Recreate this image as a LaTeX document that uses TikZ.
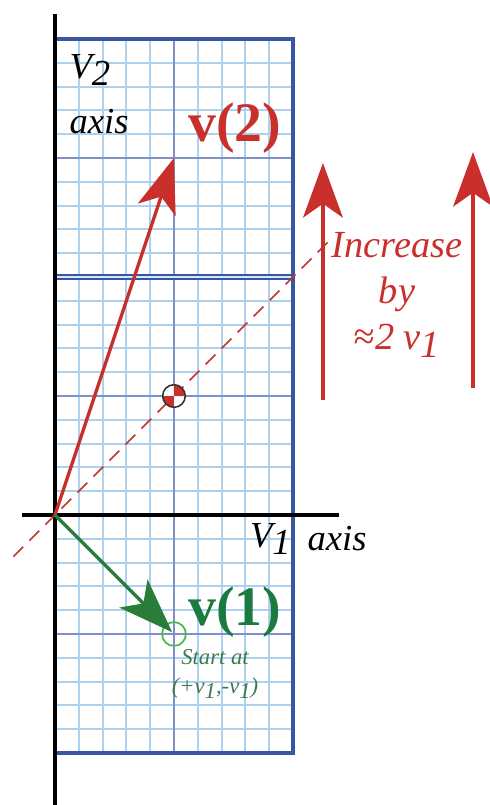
\documentclass[tikz,border=0pt]{standalone}
\usepackage{fontspec}
\setmainfont{Liberation Serif}
\usetikzlibrary{arrows.meta}

\definecolor{gridMinor}{HTML}{ADD2EF}
\definecolor{gridMajor}{HTML}{7F8FC8}
\definecolor{gridBorder}{HTML}{3A56A2}
\definecolor{vecRed}{HTML}{C9302B}
\definecolor{vecGreen}{HTML}{2A7D38}
\definecolor{labGreen}{HTML}{1A7A40}
\definecolor{noteGreen}{HTML}{3F7A4E}
\definecolor{ringGreen}{HTML}{4DB84D}

\def\VecPlotAxisLW{2.6pt}
\def\VecPlotVecLW{1.9pt}
\def\VecPlotBorderLW{2.1pt}
\def\VecPlotMinorLW{1.1pt}
\def\VecPlotMajorLW{1.1pt}
\def\VecPlotCgRadius{0.095}
\newcommand{\VecPlotSub}[1]{\raisebox{-0.45ex}{#1}}
\newcommand{\VecPlotStyles}{%
  \tikzset{
    vpminor/.style={draw=gridMinor, line width=\VecPlotMinorLW},
    vpmajor/.style={draw=gridMajor, line width=\VecPlotMajorLW},
    vpborder/.style={draw=gridBorder, line width=\VecPlotBorderLW},
    vpsplit/.style={draw=gridBorder, line width=1.5pt,
      double=gridMinor!50, double distance=0.9pt},
    vpaxis/.style={draw=black, line width=\VecPlotAxisLW},
    vpdash/.style={draw=vecRed, line width=0.9pt,
      dash pattern=on 8pt off 5pt},
    vphead/.style={
      -{Stealth[length=1.1cm, width=0.8cm, inset=0.28cm]}},
    vpvecred/.style={vphead, draw=vecRed, fill=vecRed,
      line width=\VecPlotVecLW},
    vpvecgreen/.style={vphead, draw=vecGreen, fill=vecGreen,
      line width=\VecPlotVecLW},
    vpring/.style={circle, draw=ringGreen, line width=1pt,
      minimum size=0.48cm, inner sep=0pt},
    vpcg/.style={circle, minimum size=0.44cm, inner sep=0pt},
    vplabel/.style={font=\fontsize{21}{25}\selectfont\itshape,
      inner sep=0pt},
    vpname/.style={font=\fontsize{32}{36}\selectfont\bfseries,
      inner sep=0pt},
    vpnote/.style={font=\fontsize{13}{17}\selectfont\itshape,
      text=noteGreen, align=center, inner sep=0pt},
    vpincrease/.style={font=\fontsize{22}{26.4}\selectfont\itshape,
      text=vecRed, align=center, inner sep=0pt},
  }%
}

\begin{document}
\begin{tikzpicture}[x=2.4cm, y=2.4cm]
  \VecPlotStyles
  \useasboundingbox (-0.462,-2.437) rectangle (3.655,4.328);

  % grid paper
  \draw[vpminor, step=0.2] (0,-2) grid (2,4);
  \draw[vpmajor, step=1] (0,-2) grid (2,4);
  \draw[vpsplit] (0,2) -- (2,2);
  \draw[vpborder] (0,-2) rectangle (2,4);

  % axes
  \coordinate (O) at (0,0);
  \coordinate (yTop) at (0,4.21);
  \coordinate (yBot) at (0,-2.437);
  \coordinate (xLeft) at (-0.277,0);
  \coordinate (xRight) at (2.387,0);
  \draw[vpaxis] (yBot) -- (yTop);
  \draw[vpaxis] (xLeft) -- (xRight);

  % diagonal
  \coordinate (diagA) at (-0.35,-0.35);
  \coordinate (diagB) at (2.3,2.3);
  \draw[vpdash] (diagA) -- (diagB);

  % centre mark
  \node[vpcg] (cg) at (1,1) {};
  \fill[white] (cg.center) circle (\VecPlotCgRadius);
  \fill[vecRed] (cg.center) -- ++(0:\VecPlotCgRadius)
    arc (0:90:\VecPlotCgRadius) -- cycle;
  \fill[vecRed] (cg.center) -- ++(180:\VecPlotCgRadius)
    arc (180:270:\VecPlotCgRadius) -- cycle;
  \draw[black!80, line width=0.9pt] (cg.center) circle (\VecPlotCgRadius);

  % vectors
  \coordinate (v2tip) at (1,3);
  \node[vpring] (v1ring) at (1,-1) {};
  \draw[vpvecred] (O) -- (v2tip);
  \draw[vpvecgreen, shorten >=1.5pt] (O) -- (v1ring.center);

  % increase arrows
  \coordinate (incLbot) at (2.252,0.966);
  \coordinate (incLtop) at (2.252,2.958);
  \coordinate (incRbot) at (3.513,1.067);
  \coordinate (incRtop) at (3.513,3.05);
  \draw[vpvecred] (incLbot) -- (incLtop);
  \draw[vpvecred] (incRbot) -- (incRtop);

  % labels
  \node[vplabel, anchor=west] (v2axisname) at (0.12,3.74) {V\VecPlotSub{2}};
  \node[vplabel, anchor=west] (v2axis) at (0.12,3.31) {axis};
  \node[vplabel] (v1axisname) at (1.81,-0.2) {V\VecPlotSub{1}};
  \node[vplabel, anchor=west] (v1axis) at (2.12,-0.2) {axis};
  \node[vpname, text=vecRed] (v2name) at (1.51,3.25) {v(2)};
  \node[vpname, text=labGreen] (v1name) at (1.51,-0.82) {v(1)};
  \node[vpnote] (v1note) at (1.345,-1.335)
    {Start at\\(+v\VecPlotSub{1},-v\VecPlotSub{1})};
  \node[vpincrease] (incnote) at (2.874,1.85)
    {Increase\\by\\≈2 v\VecPlotSub{1}};
\end{tikzpicture}
\end{document}
